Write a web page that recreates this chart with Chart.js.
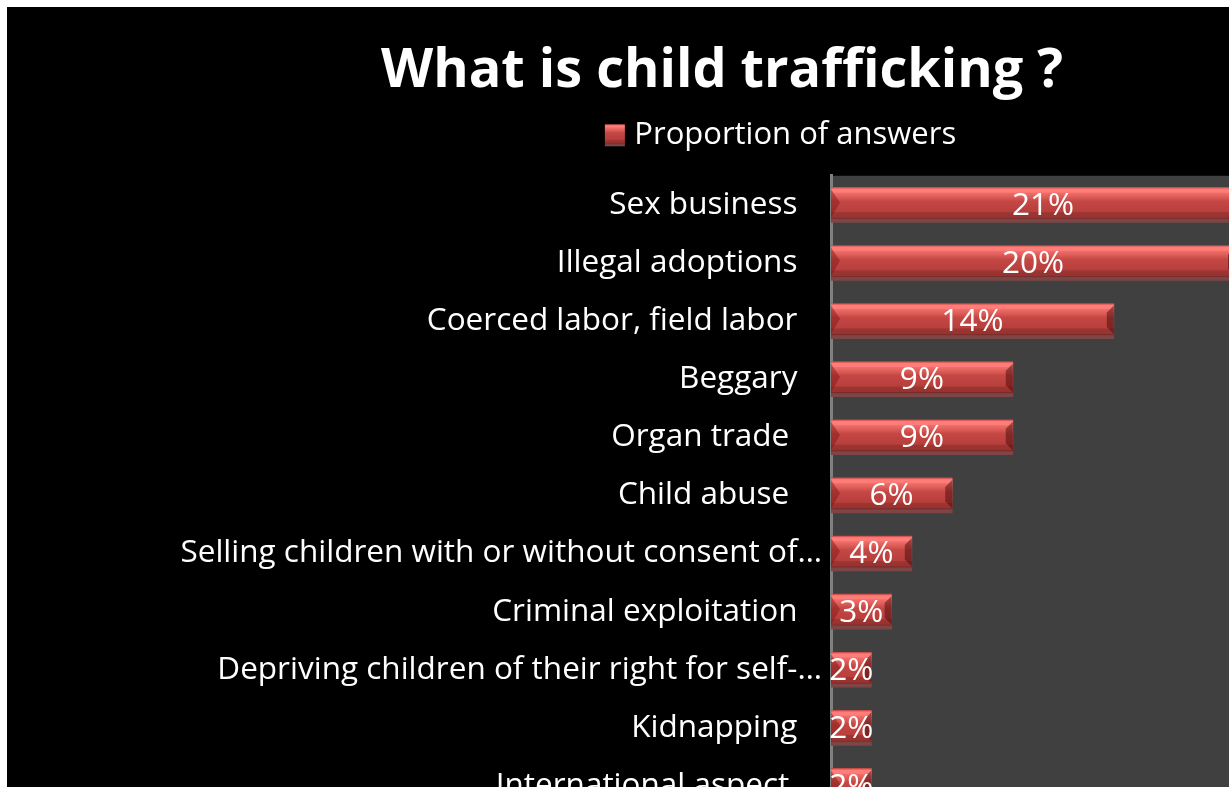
<!DOCTYPE html>
<html>
<head>
<meta charset="utf-8">
<title>What is child trafficking ?</title>
<script src="https://cdn.jsdelivr.net/npm/chart.js@4.4.1/dist/chart.umd.min.js"></script>
<style>
    html, body { margin: 0; padding: 0; background: #fff; overflow: hidden; }
    #chartBox { position: absolute; left: 7px; top: 7px; width: 1430px; height: 808px; background: #000; }
</style>
</head>
<body>
<div id="chartBox"><canvas id="traffickingBar" width="1430" height="808"></canvas></div>
<script>
const chartTitle = 'What is child trafficking ?';
const seriesName = 'Proportion of answers';

// answer categories (trailing spaces kept as in the source sheet)
const categories = [
    'Sex business   ',
    'Illegal adoptions   ',
    'Coerced labor, field labor   ',
    'Beggary   ',
    'Organ trade    ',
    'Child abuse    ',
    'Selling children with or without consent of…',
    'Criminal exploitation   ',
    'Depriving children of their right for self-…',
    'Kidnapping   ',
    'International aspect    '
];
// share of answers, in percent
const answerShares = [21, 20, 14, 9, 9, 6, 4, 3, 2, 2, 2];

const FONT = '"Open Sans", "Noto Sans", sans-serif';
const BAR_THICKNESS = 35;
const SWATCH_BOX = 131;

//#region styling helpers

function shadeStops(g) {
    g.addColorStop(0.00, '#c24a47');
    g.addColorStop(0.05, '#ff7d79');
    g.addColorStop(0.14, '#ff7d79');
    g.addColorStop(0.16, '#f06e6a');
    g.addColorStop(0.28, '#dc5c57');
    g.addColorStop(0.40, '#c44744');
    g.addColorStop(0.70, '#b83f3c');
    g.addColorStop(0.72, '#9e3532');
    g.addColorStop(0.86, '#963230');
    g.addColorStop(0.88, '#7a2a29');
    g.addColorStop(0.92, '#7c4646');
    g.addColorStop(1.00, '#7c4646');
    return g;
}

// vertical gradient per bar, placed from the category scale
function barFill(context) {
    const chart = context.chart;
    const yScale = chart.scales.y;
    if (!chart.chartArea || !yScale || context.dataIndex === undefined) {
        return '#c04542';
    }
    const mid = yScale.getPixelForValue(context.dataIndex);
    const top = mid - BAR_THICKNESS / 2;
    return shadeStops(chart.ctx.createLinearGradient(0, top, 0, top + BAR_THICKNESS));
}

// legend swatch: image is centred on the legend box, square sits near its right end
function makeSwatch() {
    const c = document.createElement('canvas');
    c.width = SWATCH_BOX + 14;
    c.height = 24;
    const g = c.getContext('2d');
    g.fillStyle = shadeStops(g.createLinearGradient(0, 1, 0, 23));
    g.fillRect(124, 1, 20, 22);
    return c;
}

//#endregion

//#region plugins

const plotBackground = {
    id: 'plotBackground',
    beforeDraw(chart) {
        const { ctx, chartArea: a } = chart;
        ctx.save();
        ctx.fillStyle = '#404040';
        ctx.fillRect(a.left, a.top, a.right - a.left, a.bottom - a.top);
        ctx.restore();
    }
};

// bevelled ends and value labels on each bar
const barDecorations = {
    id: 'barDecorations',
    afterDatasetsDraw(chart) {
        const ctx = chart.ctx;
        const meta = chart.getDatasetMeta(0);
        ctx.save();
        meta.data.forEach(bar => {
            const { x, y, base, height } = bar.getProps(['x', 'y', 'base', 'height'], true);
            const top = y - height / 2;
            const bottom = top + height * 0.87;
            const mid = (top + bottom) / 2;
            ctx.fillStyle = 'rgba(120, 20, 20, 0.45)';
            ctx.beginPath();
            ctx.moveTo(base, top + 2);
            ctx.lineTo(base + 9, mid);
            ctx.lineTo(base, bottom);
            ctx.closePath();
            ctx.fill();
            ctx.fillStyle = 'rgba(70, 10, 10, 0.5)';
            ctx.beginPath();
            ctx.moveTo(x, top + 2);
            ctx.lineTo(x - 7, top + 9);
            ctx.lineTo(x - 7, bottom - 7);
            ctx.lineTo(x, bottom);
            ctx.closePath();
            ctx.fill();
        });

        ctx.font = '31.5px ' + FONT;
        ctx.fillStyle = '#fff';
        ctx.textAlign = 'center';
        ctx.textBaseline = 'middle';
        meta.data.forEach((bar, i) => {
            const { x, y, base } = bar.getProps(['x', 'y', 'base'], true);
            ctx.fillText(answerShares[i] + '%', (x + base) / 2, y + 1);
        });
        ctx.restore();
    }
};

//#endregion

function createBarChart() {
    const data = {
        labels: categories,
        datasets: [{
            label: seriesName,
            data: answerShares,
            backgroundColor: barFill,
            borderWidth: 0,
            barThickness: BAR_THICKNESS
        }]
    };

    const config = {
        type: 'bar',
        data: data,
        options: {
            indexAxis: 'y',
            responsive: false,
            animation: false,
            devicePixelRatio: 1,
            layout: {
                padding: 0
            },
            plugins: {
                title: {
                    display: true,
                    text: chartTitle,
                    color: '#fff',
                    font: { size: 54, weight: 'bold', family: FONT, lineHeight: 1.2 },
                    padding: { top: 32, bottom: 6 }
                },
                legend: {
                    display: true,
                    position: 'top',
                    labels: {
                        color: '#fff',
                        font: { size: 31, family: FONT },
                        usePointStyle: true,
                        pointStyle: makeSwatch(),
                        pointStyleWidth: SWATCH_BOX,
                        padding: 10
                    }
                },
                tooltip: { enabled: false }
            },
            scales: {
                x: {
                    type: 'linear',
                    position: 'top',
                    min: 0,
                    max: 30,
                    grid: { display: false },
                    border: { display: false },
                    ticks: { display: false },
                    afterFit(scale) { scale.height = 15; }
                },
                y: {
                    grid: { display: false, drawTicks: false },
                    border: { display: true, color: '#808080', width: 3 },
                    ticks: {
                        color: '#fff',
                        padding: 9,
                        autoSkip: false,
                        font: { size: 31.5, family: FONT }
                    },
                    afterFit(scale) {
                        scale.width = 824;
                        scale.paddingTop = 0;
                        scale.paddingBottom = 0;
                    }
                }
            }
        },
        plugins: [plotBackground, barDecorations]
    };

    new Chart(document.getElementById('traffickingBar'), config);
}

createBarChart();
</script>
</body>
</html>
